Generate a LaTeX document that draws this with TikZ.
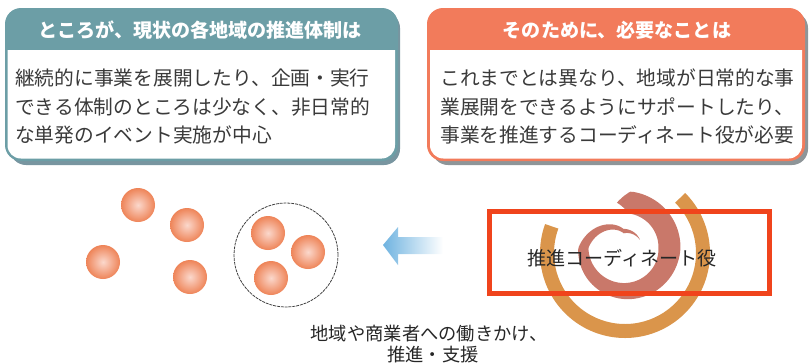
\documentclass[tikz,border=0pt]{standalone}
\usepackage{fontspec}
\newfontfamily\jp{Noto Sans CJK JP}
\usetikzlibrary{calc}

\definecolor{tealc}{HTML}{6C9EA6}
\definecolor{tealsh}{HTML}{7895A0}
\definecolor{salmonc}{HTML}{F27B5B}
\definecolor{graysh}{HTML}{8E9598}
\definecolor{bodytext}{HTML}{3A3A3A}
\definecolor{ringc}{HTML}{DA954B}
\definecolor{spiralc}{HTML}{C9786A}
\definecolor{framec}{HTML}{F0441C}
\definecolor{ballin}{HTML}{FBD8CC}
\definecolor{ballout}{HTML}{EE8458}
\definecolor{arrowc}{HTML}{6FB3E0}

\begin{document}
\begin{tikzpicture}[x=0.75pt,y=-0.75pt,
  hdr/.style={anchor=base, inner sep=0pt, text=white,
    font=\jp\bfseries\fontsize{14.3}{17}\selectfont},
  bodyline/.style={anchor=base west, inner sep=0pt, text=bodytext,
    font=\jp\fontsize{14.8}{18}\selectfont},
  ball/.style={circle, minimum size=25.5pt, inner sep=0pt,
    inner color=ballin, outer color=ballout},
  capline/.style={anchor=base, inner sep=0pt, text=black!85,
    font=\jp\fontsize{13.7}{16}\selectfont},
  declare function={
    spa(\t)=100-430*\t;
    spr(\u)=max(17, ifthenelse(\u>-180, 46-0.0155*(100-(\u)), 41.66-0.29*(-180-(\u))));
    sph(\u)=max(0.15, min(0.7*(100-(\u)), 11+0.033*min(0,\u)));
  }]
\useasboundingbox (0,0) rectangle (809,362);

% ---- left panel: current situation ----
\fill[tealsh, rounded corners=12] (10,12) rectangle (400,165);
\fill[tealc, rounded corners=12] (5,8) rectangle (398,161);
\fill[white] (7.5,50) [rounded corners=10] -- (7.5,158.5) -- (395,158.5) [sharp corners] -- (395,50) -- cycle;
\node[hdr] (lhead) at (200,37) {ところが、現状の各地域の推進体制は};
\node[bodyline] (l1) at (15,85.5) {継続的に事業を展開したり、企画・実行};
\node[bodyline] (l2) at (15,114.5) {できる体制のところは少なく、非日常的};
\node[bodyline] (l3) at (15,142.5) {な単発のイベント実施が中心};

% ---- right panel: what is needed ----
\fill[graysh, rounded corners=12] (432,12) rectangle (808,165);
\fill[salmonc, rounded corners=12] (427,8) rectangle (805,161);
\fill[white] (430,50) [rounded corners=10] -- (430,158.5) -- (802,158.5) [sharp corners] -- (802,50) -- cycle;
\node[hdr] (rhead) at (617,37) {そのために、必要なことは};
\node[bodyline] (r1) at (440,85.5) {これまでとは異なり、地域が日常的な事};
\node[bodyline] (r2) at (440,114.5) {業展開をできるようにサポートしたり、};
\node[bodyline] (r3) at (440,142.5) {事業を推進するコーディネート役が必要};

% ---- scattered actors ----
\node[ball] (b1) at (138,205) {};
\node[ball] (b2) at (187,225) {};
\node[ball] (b3) at (103,262) {};
\node[ball] (b4) at (190,277) {};

% ---- grouped actors ----
\node[circle, draw=black!75, line width=0.6pt, dash pattern=on 2.2pt off 0.7pt,
  minimum size=78pt, inner sep=0pt] (grp) at (286,255) {};
\node[ball] (g1) at (268,233) {};
\node[ball] (g2) at (308,252) {};
\node[ball] (g3) at (271,278) {};

% ---- fading arrow towards the group ----
\shade[left color=arrowc, right color=white] (383,245) -- (398,227) -- (398,237)
  -- (443,237) -- (443,254) -- (398,254) -- (398,265) -- cycle;

% ---- coordinator emblem: ring and spiral ----
\draw[ringc, line width=10.5pt] plot[domain=-200:45, samples=90, smooth]
  ({625+78*cos(\x)},{253-78*sin(\x)});
\fill[spiralc]
  plot[domain=0:1, samples=140, smooth]
    ({625+(spr(spa(\x))+sph(spa(\x)))*cos(spa(\x))},
     {248-(spr(spa(\x))+sph(spa(\x)))*sin(spa(\x))})
  -- plot[domain=0:1, samples=140, smooth]
    ({625+(spr(spa(1-\x))-sph(spa(1-\x)))*cos(spa(1-\x))},
     {248-(spr(spa(1-\x))-sph(spa(1-\x)))*sin(spa(1-\x))})
  -- cycle;

\node[draw=framec, line width=3.75pt, minimum width=210pt, minimum height=61.5pt,
  inner sep=0pt] (coord) at (629,252.5) {};
\node[anchor=base, inner sep=0pt, text=black!85,
  font=\jp\fontsize{14.3}{17}\selectfont] (coordlbl) at (622,265) {推進コーディネート役};

% ---- caption ----
\node[capline] (c1) at (429,340) {地域や商業者への働きかけ、};
\node[capline] (c2) at (433,361) {推進・支援};
\end{tikzpicture}
\end{document}
